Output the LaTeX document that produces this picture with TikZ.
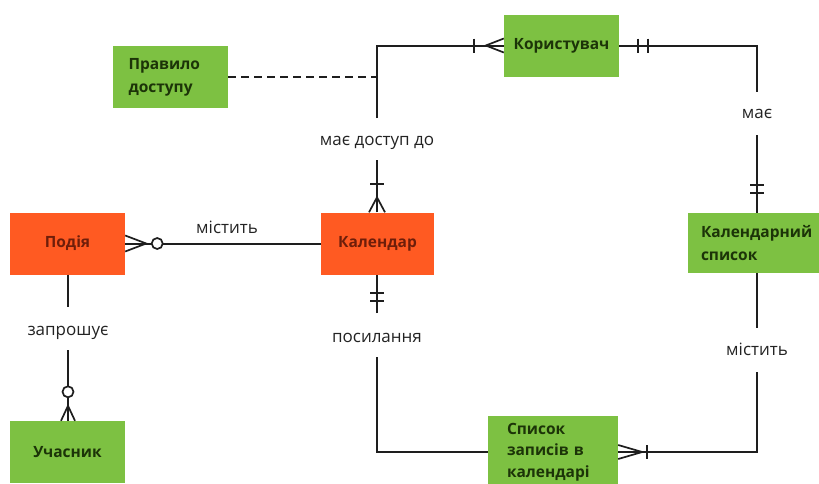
\documentclass[tikz,border=0pt]{standalone}
\usepackage{fontspec}
\setmainfont{Open Sans}
\usetikzlibrary{calc}
\definecolor{gfill}{RGB}{125,193,66}
\definecolor{ofill}{RGB}{255,90,34}
\definecolor{gtext}{RGB}{28,52,8}
\definecolor{otext}{RGB}{110,30,10}
\definecolor{lne}{RGB}{30,30,30}
\definecolor{lbl}{RGB}{35,35,35}
\begin{document}
\begin{tikzpicture}[x=1pt,y=-1pt,
  box/.style={draw=none, minimum width=115pt, minimum height=62pt, inner sep=0pt,
    font=\fontsize{15.5}{23}\selectfont\bfseries},
  gbox/.style={box, fill=gfill, text=gtext},
  obox/.style={box, fill=ofill, text=otext},
  lab/.style={font=\fontsize{17}{20}\selectfont, text=lbl, inner sep=0pt},
  conn/.style={draw=lne, line width=2pt},
  ermark/.style={draw=lne, line width=1.7pt},
  dashconn/.style={draw=lne, line width=1.7pt, dash pattern=on 8pt off 5pt}]
\useasboundingbox (0,0) rectangle (819,483);
\fill[white] (0,0) rectangle (819,483);

% entities
\node[gbox] (kor) at (561.5,45.5) {Користувач};
\node[gbox, minimum height=62pt, text width=84pt, inner xsep=15.5pt, align=left] (prav) at (170.5,77) {Правило\\доступу};
\node[obox] (pod) at (67.5,243.5) {Подія};
\node[obox, minimum width=113pt] (kal) at (377.5,243.5) {Календар};
\node[gbox, minimum height=60pt, text width=118pt, inner xsep=13pt, align=left] (kalsp) at (760,243) {Календарний\\список};
\node[gbox] (uch) at (67.5,452) {Учасник};
\node[gbox, minimum height=72pt, text width=92pt, inner xsep=19pt, align=left,
  font=\fontsize{15.5}{21.5}\selectfont\bfseries] (lst) at (553,452) {Список\\записів в\\календарі};

% labels
\node[lab] (lkd) at (377,143) {має доступ до};
\node[lab] (lmae) at (757,114) {має};
\node[lab] (lmis2) at (757,349) {містить};
\node[lab] (lpos) at (377,338) {посилання};
\node[lab] (lmis1) at (227,227) {містить};
\node[lab] (lzap) at (68,333) {запрошує};

% bend / free-end coordinates
\coordinate (kd1) at (377,160);
\coordinate (kd2) at (377,118);
\coordinate (m1) at (757,92);
\coordinate (m2) at (757,135);
\coordinate (s1) at (757,328);
\coordinate (s2) at (757,372);
\coordinate (p1) at (377,357);
\coordinate (p2) at (377,313);
\coordinate (z1) at (68,307);
\coordinate (z2) at (68,350);

% connectors
\draw[conn] (kal.north -| kd1) -- (kd1);
\draw[conn] (kd2) |- (kor.west);
\draw[conn] (kor.east) -| (m1);
\draw[conn] (m2) -- (m2 |- kalsp.north);
\draw[conn] (kalsp.south -| s1) -- (s1);
\draw[conn] (s2) |- (lst.east);
\draw[conn] (lst.west) -| (p1);
\draw[conn] (p2) -- (p2 |- kal.south);
\draw[conn] (pod.east) -- (kal.west);
\draw[conn] (pod.south -| z1) -- (z1);
\draw[conn] (z2) -- (z2 |- uch.north);
\draw[dashconn] (prav.east) -- (prav.east -| kd2);

% crow's foot markers
\begin{scope}[shift={(kor.west)}]
  \draw[ermark] (-30,-7) -- (-30,7);
  \draw[ermark] (0,-7) -- (-18,0) -- (0,7);
\end{scope}
\begin{scope}[shift={(kor.east)}]
  \draw[ermark] (19,-7) -- (19,7) (29,-7) -- (29,7);
\end{scope}
\begin{scope}[shift={(kalsp.north -| m2)}]
  \draw[ermark] (-7,-28) -- (7,-28) (-7,-20) -- (7,-20);
\end{scope}
\begin{scope}[shift={(kal.north -| kd1)}]
  \draw[ermark] (-7,-28) -- (7,-28);
  \draw[ermark] (-8,0) -- (0,-15) -- (8,0);
\end{scope}
\begin{scope}[shift={(kal.south -| p2)}]
  \draw[ermark] (-7,18) -- (7,18) (-7,26) -- (7,26);
\end{scope}
\begin{scope}[shift={(pod.east)}]
  \draw[ermark] (0,-8) -- (21,0) -- (0,8);
  \draw[ermark, fill=white] (32,0) circle[radius=5.5pt];
\end{scope}
\begin{scope}[shift={(uch.north -| z2)}]
  \draw[ermark] (-7,0) -- (0,-15) -- (7,0);
  \draw[ermark, fill=white] (0,-29) circle[radius=5.5pt];
\end{scope}
\begin{scope}[shift={(lst.east)}]
  \draw[ermark] (0,-7) -- (24,0) -- (0,7);
  \draw[ermark] (29,-7) -- (29,7);
\end{scope}
\end{tikzpicture}
\end{document}
